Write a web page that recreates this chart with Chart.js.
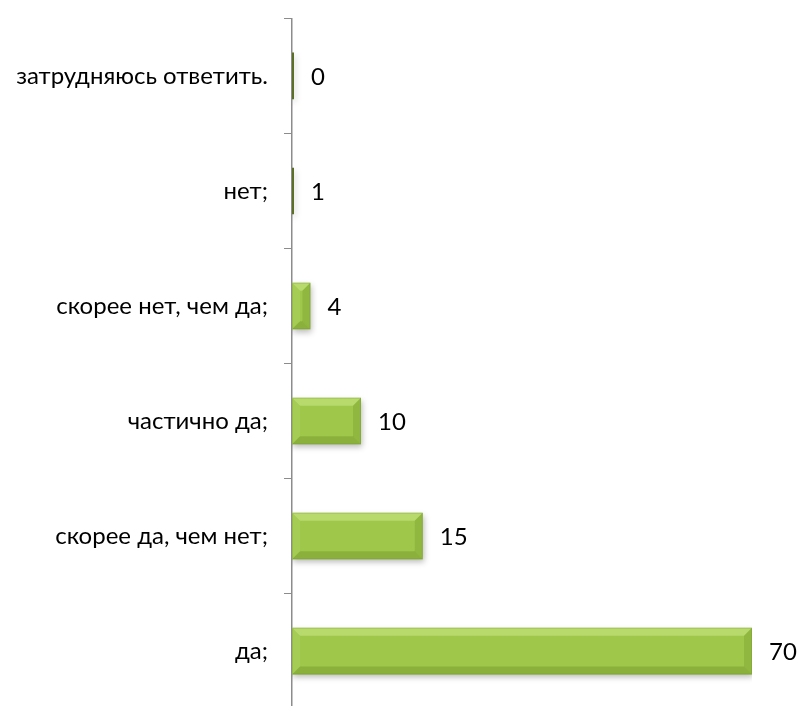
<!DOCTYPE html>
<html>
<head>
<meta charset="utf-8">
<script src="https://cdn.jsdelivr.net/npm/chart.js@4.4.1/dist/chart.umd.min.js"></script>
<style>
  html, body { margin: 0; padding: 0; background: #ffffff; overflow: hidden; }
  #wrap { position: relative; width: 797px; height: 706px; overflow: hidden; }
  #c { display: block; margin-top: -12px; }
</style>
</head>
<body>
<div id="wrap"><canvas id="c" width="797" height="751"></canvas></div>
<script>
// Categories, top to bottom
const categories = ["затрудняюсь ответить.", "нет;", "скорее нет, чем да;", "частично да;", "скорее да, чем нет;", "да;"];
// Value labels printed next to bars
const labelValues = [0, 1, 4, 10, 15, 70];
// Bar lengths as drawn in the picture (in the same units as the axis)
const barValues = [0, 0.3, 2.8, 10.5, 19.9, 70];

const FONT = 'Lato, "Open Sans", sans-serif';

const bevelPlugin = {
  id: 'bevel',
  beforeDatasetsDraw(chart) {
    const ctx = chart.ctx;
    ctx.save();
    ctx.shadowColor = 'rgba(0,0,0,0.28)';
    ctx.shadowBlur = 6;
    ctx.shadowOffsetX = 1;
    ctx.shadowOffsetY = 3;
  },
  afterDatasetsDraw(chart) {
    const ctx = chart.ctx;
    ctx.restore();
    const meta = chart.getDatasetMeta(0);
    ctx.save();
    meta.data.forEach((bar) => {
      const x0 = bar.base, x1 = bar.x;
      const y0 = bar.y - bar.height / 2, y1 = bar.y + bar.height / 2;
      const w = x1 - x0;
      if (w < 6) return;
      const b = Math.min(8, w / 2, bar.height / 2);
      ctx.fillStyle = 'rgba(215,240,150,0.45)';
      ctx.beginPath();
      ctx.moveTo(x0, y0); ctx.lineTo(x1, y0); ctx.lineTo(x1 - b, y0 + b); ctx.lineTo(x0 + b, y0 + b); ctx.closePath(); ctx.fill();
      ctx.fillStyle = 'rgba(100,135,35,0.25)';
      ctx.beginPath();
      ctx.moveTo(x1, y0); ctx.lineTo(x1, y1); ctx.lineTo(x1 - b, y1 - b); ctx.lineTo(x1 - b, y0 + b); ctx.closePath(); ctx.fill();
      ctx.fillStyle = 'rgba(95,130,30,0.32)';
      ctx.beginPath();
      ctx.moveTo(x0, y1); ctx.lineTo(x1, y1); ctx.lineTo(x1 - b, y1 - b); ctx.lineTo(x0 + b, y1 - b); ctx.closePath(); ctx.fill();
      ctx.fillStyle = 'rgba(200,230,140,0.15)';
      ctx.beginPath();
      ctx.moveTo(x0, y0); ctx.lineTo(x0, y1); ctx.lineTo(x0 + b, y1 - b); ctx.lineTo(x0 + b, y0 + b); ctx.closePath(); ctx.fill();
      ctx.strokeStyle = 'rgba(110,145,40,0.3)';
      ctx.lineWidth = 1;
      ctx.strokeRect(x0 + 0.5, y0 + 0.5, w - 1, bar.height - 1);
    });
    ctx.fillStyle = '#000000';
    ctx.font = '24px ' + FONT;
    ctx.textAlign = 'left';
    ctx.textBaseline = 'middle';
    meta.data.forEach((bar, i) => {
      ctx.fillText(String(labelValues[i]), bar.x + 17, bar.y + 1);
    });
    ctx.restore();
  }
};

new Chart(document.getElementById('c'), {
  type: 'bar',
  data: {
    labels: categories,
    datasets: [{
      data: barValues,
      minBarLength: 2,
      barPercentage: 0.405,
      categoryPercentage: 1.0,
      borderWidth: 0,
      backgroundColor: (ctx) => {
        if (ctx.raw !== undefined && ctx.raw < 1) return '#5a6e26';
        const chart = ctx.chart;
        const el = chart.getDatasetMeta(0).data[ctx.dataIndex];
        if (!el || !isFinite(el.y) || !isFinite(el.height) || el.height <= 0) return '#9fc84b';
        const y0 = el.y - el.height / 2, y1 = el.y + el.height / 2;
        const g = chart.ctx.createLinearGradient(0, y0, 0, y1);
        g.addColorStop(0, '#b4da62');
        g.addColorStop(0.35, '#a6cf52');
        g.addColorStop(0.75, '#9cc547');
        g.addColorStop(1, '#8db83c');
        return g;
      }
    }]
  },
  options: {
    indexAxis: 'y',
    responsive: false,
    animation: false,
    layout: { padding: { top: 15, bottom: 9, right: 45, left: 0 } },
    plugins: { legend: { display: false }, tooltip: { enabled: false } },
    scales: {
      x: { display: false, min: 0, max: 70 },
      y: {
        offset: true,
        afterFit(scale) { scale.width = 292; },
        grid: {
          offset: true,
          drawOnChartArea: false,
          drawTicks: true,
          tickLength: 8,
          color: '#8c8c8c',
          lineWidth: 1
        },
        border: { display: true, color: '#8c8c8c', width: 1.5 },
        ticks: {
          color: '#000000',
          padding: 16,
          font: { family: FONT, size: 24 }
        }
      }
    }
  },
  plugins: [bevelPlugin]
});
</script>
</body>
</html>
